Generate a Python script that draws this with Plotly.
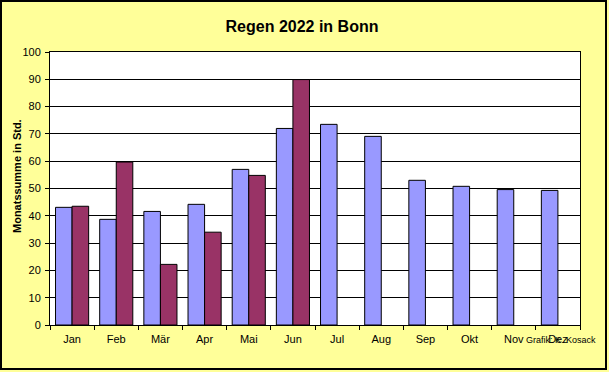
import plotly.graph_objects as go

months = ["Jan", "Feb", "Mär", "Apr", "Mai", "Jun", "Jul", "Aug", "Sep", "Okt", "Nov", "Dez"]
mittel = [43.1, 38.7, 41.6, 44.2, 57.0, 72.0, 73.5, 69.1, 53.0, 50.8, 49.6, 49.3]
regen_2022 = [43.5, 59.7, 22.2, 34.0, 54.8, 89.9, None, None, None, None, None, None]
y_ticks = list(range(0, 101, 10))

W, H = 609, 372
L, R, T, B = 50, 29, 52, 47
pw, ph = W - L - R, H - T - B

def px(x):
    return (x - L) / pw

def py(y):
    return (H - B - y) / ph

fig = go.Figure()
fig.add_trace(go.Bar(x=months, y=mittel, name="Mittel",
                     marker=dict(color="#9999FF", line=dict(color="black", width=1))))
fig.add_trace(go.Bar(x=months, y=regen_2022, name="2022",
                     marker=dict(color="#993366", line=dict(color="black", width=1))))

fig.update_layout(
    width=W, height=H,
    margin=dict(l=L, r=R, t=T, b=B),
    paper_bgcolor="#FFFF99",
    plot_bgcolor="white",
    barmode="group", bargap=0.25, bargroupgap=0,
    showlegend=False,
    font=dict(family="Liberation Sans, Arial", size=11, color="black"),
    title=dict(text="<b>Regen 2022 in Bonn</b>", x=302 / W, xref="container", xanchor="center",
               y=1 - 26 / H, yanchor="middle", font=dict(size=16, color="black")),
)
fig.update_xaxes(showline=True, linecolor="black", linewidth=1, mirror=True,
                 ticks="outside", tickson="boundaries", ticklen=4, tickcolor="black",
                 showgrid=False, tickfont=dict(size=11), ticklabelstandoff=4)
fig.update_yaxes(range=[0, 100], tickvals=y_ticks, showline=True, linecolor="black",
                 linewidth=1, mirror=True, ticks="outside", ticklen=4, tickcolor="black",
                 showgrid=True, gridcolor="black", gridwidth=1, zeroline=False,
                 tickfont=dict(size=11), ticklabelstandoff=2)

fig.add_annotation(text="<b>Monatssumme in Std.</b>", textangle=-90, showarrow=False,
                   xref="paper", yref="paper", x=px(17), y=py(176),
                   xanchor="center", yanchor="middle", font=dict(size=11))
fig.add_annotation(text="Grafik: K. Kosack", showarrow=False,
                   xref="paper", yref="paper", x=px(524), y=py(340),
                   xanchor="left", yanchor="middle", font=dict(size=9))
fig.add_shape(type="rect", xref="paper", yref="paper",
              x0=px(1), x1=px(606), y0=py(369), y1=py(1),
              line=dict(color="black", width=2), layer="below")

fig.write_html("out.html", config={"displayModeBar": False},
               post_script="document.body.style.margin='0';document.body.style.overflow='hidden';")
